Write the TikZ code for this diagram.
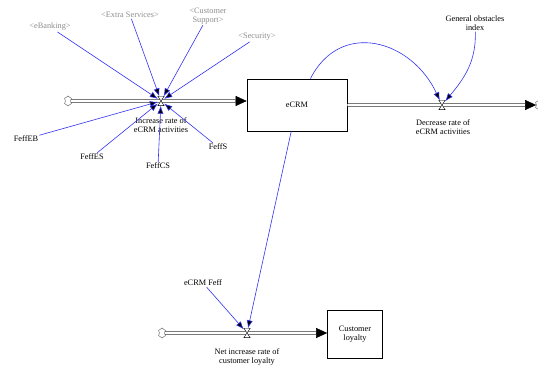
\documentclass[tikz,border=0pt]{standalone}
\usepackage{fontspec}
\setmainfont{Liberation Serif}
\usetikzlibrary{arrows.meta,positioning,shapes.symbols}
\definecolor{linkblue}{RGB}{50,50,245}
\definecolor{ghostgray}{RGB}{140,140,140}

\begin{document}
\begin{tikzpicture}[x=1pt,y=1pt,font=\fontsize{8.3}{8.8}\selectfont,
  stock/.style={draw,line width=0.7pt,minimum width=100pt,minimum height=52pt,align=center},
  txt/.style={align=center,inner sep=1pt},
  ghost/.style={txt,text=ghostgray},
  valve/.style={inner sep=0,minimum width=6pt,minimum height=9pt},
  cloudy/.style={cloud,cloud puffs=6,aspect=0.9,draw=black!70,minimum width=8pt,minimum height=10pt,inner sep=0},
  pipe/.style={draw=black!80,double=white,double distance=1.8pt,line width=0.7pt},
  infl/.style={draw=linkblue,line width=0.6pt,-{Latex[length=8pt,width=6pt]}}]
  \useasboundingbox (0,0) rectangle (538,372);
  % stocks, valves and clouds
  \node[stock] (ecrm) at (297,267) {eCRM};
  \node[stock,minimum width=55pt,minimum height=48pt] (loyalty) at (355,38) {Customer\\loyalty};
  \node[valve] (vin) at (161,271) {};
  \node[valve] (vout) at (442,267) {};
  \node[valve] (vnet) at (247,39) {};
  \node[cloudy] (src) at (68,271) {};
  \node[cloudy] (sink) at (539,267) {};
  \node[cloudy] (src2) at (162,39) {};
  % variables
  \node[txt] (lin) at (161,247) {Increase rate of\\eCRM activities};
  \node[txt] (lout) at (443,245) {Decrease rate of\\eCRM activities};
  \node[txt] (lnet) at (247,15) {Net increase rate of\\customer loyalty};
  \node[ghost] (bank) at (50,345) {\textless eBanking\textgreater};
  \node[ghost] (extra) at (130,357) {\textless Extra Services\textgreater};
  \node[ghost] (cust) at (208,356) {\textless Customer\\Support\textgreater};
  \node[ghost] (sec) at (257,335) {\textless Security\textgreater};
  \node[txt] (feb) at (26,233) {FeffEB};
  \node[txt] (fes) at (92,215) {FeffES};
  \node[txt] (fcs) at (158,206) {FeffCS};
  \node[txt] (fs) at (218,225) {FeffS};
  \node[txt] (obst) at (475,349) {General obstacles\\index};
  \node[txt] (feff) at (203,89) {eCRM Feff};
  % flows
  \coordinate (inend) at (ecrm.west |- vin);
  \coordinate (outend) at (sink.west);
  \coordinate (netend) at (loyalty.west |- vnet);
  \draw[pipe] (src) -- ([xshift=-11pt]inend);
  \draw[pipe] (ecrm.east) -- ([xshift=-11pt]outend);
  \draw[pipe] (src2) -- ([xshift=-11pt]netend);
  \foreach \e in {inend,outend,netend}
    \draw[-{Triangle[length=11pt,width=10pt]}] ([xshift=-11pt]\e) -- (\e);
  \foreach \v in {vin,vout,vnet}
    \draw[fill=white,line width=0.4pt] (\v.north west) -- (\v.north east) -- (\v.south west) -- (\v.south east) -- cycle;
  % influences
  \path[infl]
    (bank) edge (vin)
    (extra) edge (vin)
    (cust) edge (vin)
    (sec) edge (vin)
    (feb) edge (vin)
    (fes) edge (vin)
    (fcs) edge (vin)
    (fs) edge (vin)
    (ecrm) edge[out=63,in=115,looseness=1.3] (vout)
    (obst) edge[out=-88,in=50] (vout)
    (ecrm) edge (vnet)
    (feff) edge (vnet);
\end{tikzpicture}
\end{document}
